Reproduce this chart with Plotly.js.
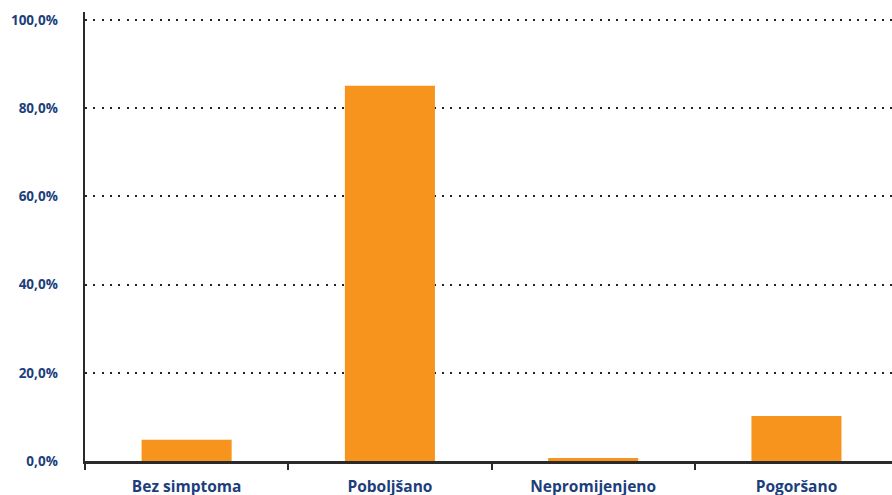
<!DOCTYPE html>
<html>
<head>
<meta charset="utf-8">
<script src="https://cdn.plot.ly/plotly-3.0.1.min.js"></script>
<style>html,body{margin:0;padding:0;background:#fff;}#chart{width:892px;height:495px;}</style>
</head>
<body>
<div id="chart"></div>
<script>
var categories = ["Bez simptoma", "Poboljšano", "Nepromijenjeno", "Pogoršano"];
var values = [4.8, 85.1, 0.7, 10.2];
var tickValues = [0, 20, 40, 60, 80, 100];
var tickLabels = ["0,0%", "20,0%", "40,0%", "60,0%", "80,0%", "100,0%"];

var textColor = "#1c3f7c";
var fontFamily = "'Open Sans', 'DejaVu Sans', sans-serif";

var trace = {
  type: "bar",
  x: categories,
  y: values,
  width: 0.443,
  marker: {color: "#f7941d", line: {width: 0}},
  hoverinfo: "none"
};

var layout = {
  width: 892,
  height: 495,
  margin: {l: 85, r: 0, t: 12, b: 34},
  paper_bgcolor: "#ffffff",
  plot_bgcolor: "#ffffff",
  showlegend: false,
  xaxis: {
    type: "category",
    range: [-0.5, 3.47],
    showgrid: false,
    showline: true,
    linecolor: "#2a2a2a",
    linewidth: 2.5,
    ticks: "outside",
    tickson: "boundaries",
    ticklen: 6,
    tickwidth: 2,
    tickcolor: "#2a2a2a",
    ticklabelstandoff: 10,
    tickfont: {family: fontFamily, size: 15.5, color: textColor, weight: "bold"},
    fixedrange: true,
    zeroline: false
  },
  yaxis: {
    range: [0, 101.8],
    tickmode: "array",
    tickvals: tickValues,
    ticktext: tickLabels,
    showgrid: true,
    gridcolor: "#222222",
    gridwidth: 2,
    griddash: "2px,6.3px",
    showline: true,
    linecolor: "#2a2a2a",
    linewidth: 2.5,
    ticks: "",
    ticklabelstandoff: 22,
    tickfont: {family: fontFamily, size: 13.5, color: textColor, weight: "bold"},
    zeroline: false,
    fixedrange: true
  }
};

Plotly.newPlot("chart", [trace], layout, {staticPlot: true, displayModeBar: false});
</script>
</body>
</html>
